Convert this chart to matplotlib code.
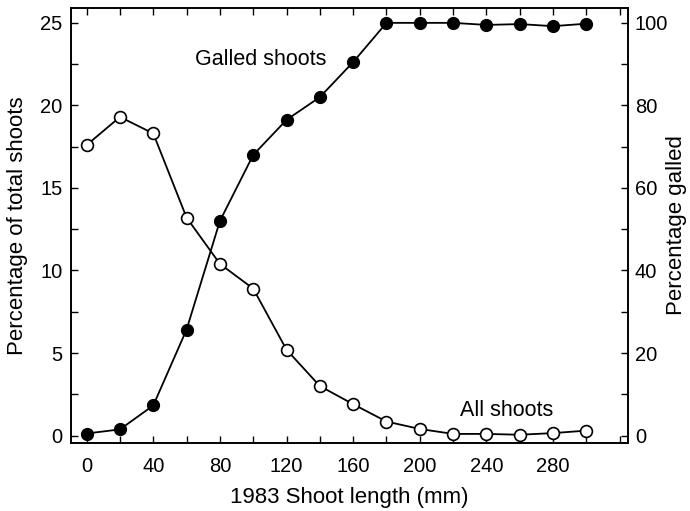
import matplotlib
matplotlib.use("Agg")
import matplotlib.pyplot as plt
from matplotlib.ticker import MultipleLocator

plt.rcParams['font.family'] = ['Liberation Sans', 'DejaVu Sans']

shoot_length = [0, 20, 40, 60, 80, 100, 120, 140, 160, 180, 200, 220, 240, 260, 280, 300]
all_shoots = [17.6, 19.3, 18.3, 13.2, 10.4, 8.9, 5.2, 3.0, 1.9, 0.85, 0.4, 0.1, 0.1, 0.05, 0.15, 0.3]
galled_pct = [0.5, 1.5, 7.3, 25.7, 52.0, 68.0, 76.5, 82.0, 90.5, 100.0, 100.0, 100.0, 99.5, 99.7, 99.2, 99.8]
x_ticks = [0, 40, 80, 120, 160, 200, 240, 280]

fig = plt.figure(figsize=(6.9, 5.11), dpi=100)
ax = fig.add_axes([71/690, 1-443/511, (628-71)/690, (443-8)/511])
ax2 = ax.twinx()

ax.plot(shoot_length, all_shoots, '-o', color='black', mfc='white', mec='black',
        ms=8.5, lw=1.3, mew=1.2, zorder=3)
ax2.plot(shoot_length, galled_pct, '-o', color='black', mfc='black', mec='black',
         ms=8.5, lw=1.3, zorder=3)

ax.set_xlim(-9.4, 325)
ax.set_ylim(-0.45, 25.9)
ax2.set_ylim(-1.8, 103.6)

ax.set_xticks(x_ticks)
ax.xaxis.set_minor_locator(MultipleLocator(20))
ax.yaxis.set_major_locator(MultipleLocator(5))
ax.yaxis.set_minor_locator(MultipleLocator(2.5))
ax2.yaxis.set_major_locator(MultipleLocator(20))
ax2.yaxis.set_minor_locator(MultipleLocator(10))

for a in (ax, ax2):
    a.tick_params(which='both', direction='in', labelsize=14.5)
    a.tick_params(which='major', length=5, width=1)
    a.tick_params(which='minor', length=5, width=1)
    for s in a.spines.values():
        s.set_linewidth(1.2)
ax.tick_params(which='both', top=True)
ax.tick_params(axis='x', pad=10)
ax.tick_params(axis='y', pad=6)
ax2.tick_params(axis='y', pad=5)

ax.set_xlabel('1983 Shoot length (mm)', fontsize=16)
ax.set_ylabel('Percentage of total shoots', fontsize=16)
ax2.set_ylabel('Percentage galled', fontsize=16)
ax.xaxis.set_label_coords(0.5, -0.10)
ax.yaxis.set_label_coords(-0.078, 0.5)
ax2.yaxis.set_label_coords(1.069, 0.5)

ax.text(65, 22.8, 'Galled shoots', fontsize=15.5, ha='left', va='center')
ax.text(224, 1.5, 'All shoots', fontsize=15.5, ha='left', va='center')

fig.savefig('out.png', dpi=100)
